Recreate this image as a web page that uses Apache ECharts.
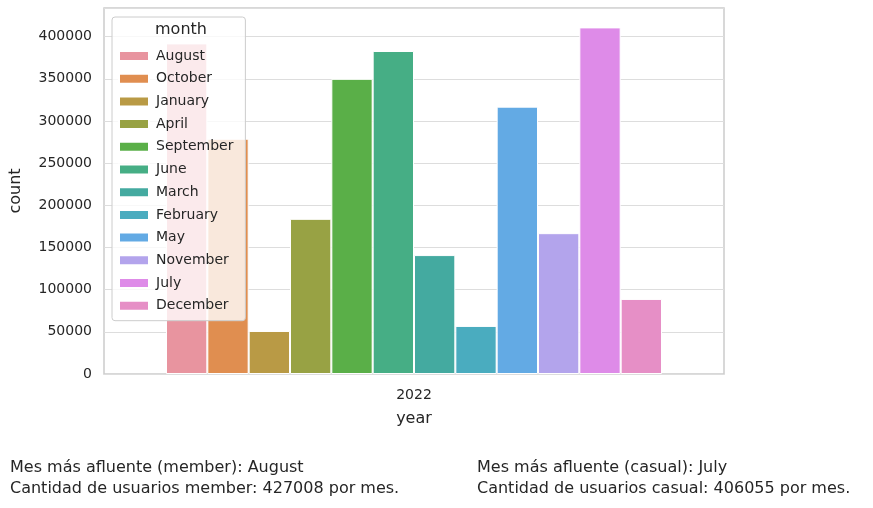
<!DOCTYPE html>
<html><head><meta charset="utf-8">
<script src="https://cdn.jsdelivr.net/npm/echarts@6/dist/echarts.min.js"></script>
<style>html,body{margin:0;background:#fff}#c{width:873px;height:508px}</style>
</head><body><div id="c"></div>
<script>
var months = ['August','October','January','April','September','June','March','February','May','November','July','December'];
var counts = [392000, 279000, 51000, 184000, 350000, 383000, 141000, 57000, 317000, 167000, 411000, 89000];
var colors = ['#e8949f','#e08e50','#b99a45','#98a244','#5aaf48','#46ae85','#44aaa0','#4aacbf','#63aae4','#b3a4ec','#de8be8','#e68fc6'];
var years = ['2022'];
var yTicks = [0, 50000, 100000, 150000, 200000, 250000, 300000, 350000, 400000];

var myChart = echarts.init(document.getElementById('c'));
var font = 'DejaVu Sans';
var series = months.map(function (m, i) {
    return {
        name: m, type: 'bar', data: [counts[i]],
        barGap: '0%', barCategoryGap: '20%',
        itemStyle: { color: colors[i], borderColor: '#fff', borderWidth: 1 }
    };
});
var option = {
    animation: false,
    textStyle: { fontFamily: font },
    grid: { left: 104, right: 149, top: 8, bottom: 134, show: true, borderColor: '#cccccc', borderWidth: 1.5 },
    xAxis: {
        type: 'category', data: years, name: 'year', nameLocation: 'middle', nameGap: 37,
        nameTextStyle: { fontSize: 16, color: '#262626' },
        axisLine: { show: false }, axisTick: { show: false },
        axisLabel: { fontSize: 14, color: '#262626', margin: 14 }
    },
    yAxis: {
        type: 'value', min: 0, max: 434000, interval: 50000, name: 'count', nameLocation: 'middle', nameGap: 80,
        nameTextStyle: { fontSize: 16, color: '#262626' },
        axisLine: { show: false }, axisTick: { show: false },
        axisLabel: { fontSize: 14, color: '#262626', margin: 12,
            formatter: function (v) { return yTicks.indexOf(v) >= 0 ? String(v) : ''; } },
        splitLine: { lineStyle: { color: '#dddddd', width: 1.2 } }
    },
    legend: {
        orient: 'vertical', left: 112, top: 17,
        padding: [31, 12, 7, 6],
        backgroundColor: 'rgba(255,255,255,0.8)', borderColor: '#cccccc', borderWidth: 1, borderRadius: 3,
        itemWidth: 30, itemHeight: 10, itemGap: 6.7,
        icon: 'rect',
        textStyle: { fontSize: 14, color: '#262626', lineHeight: 16, padding: [0, 0, 0, 2] },
        data: months
    },
    graphic: [
        { type: 'text', left: 155, top: 22, z: 100, style: { text: 'month', fontSize: 16, fill: '#262626', fontFamily: font } },
        { type: 'text', left: 10, top: 457, style: { text: 'Mes más afluente (member): August\nCantidad de usuarios member: 427008 por mes.', fontSize: 16, lineHeight: 21, fill: '#262626', fontFamily: font, align: 'center' } },
        { type: 'text', left: 477, top: 457, style: { text: 'Mes más afluente (casual): July\nCantidad de usuarios casual: 406055 por mes.', fontSize: 16, lineHeight: 21, fill: '#262626', fontFamily: font } }
    ],
    series: series
};
myChart.setOption(option);
</script>
</body></html>
